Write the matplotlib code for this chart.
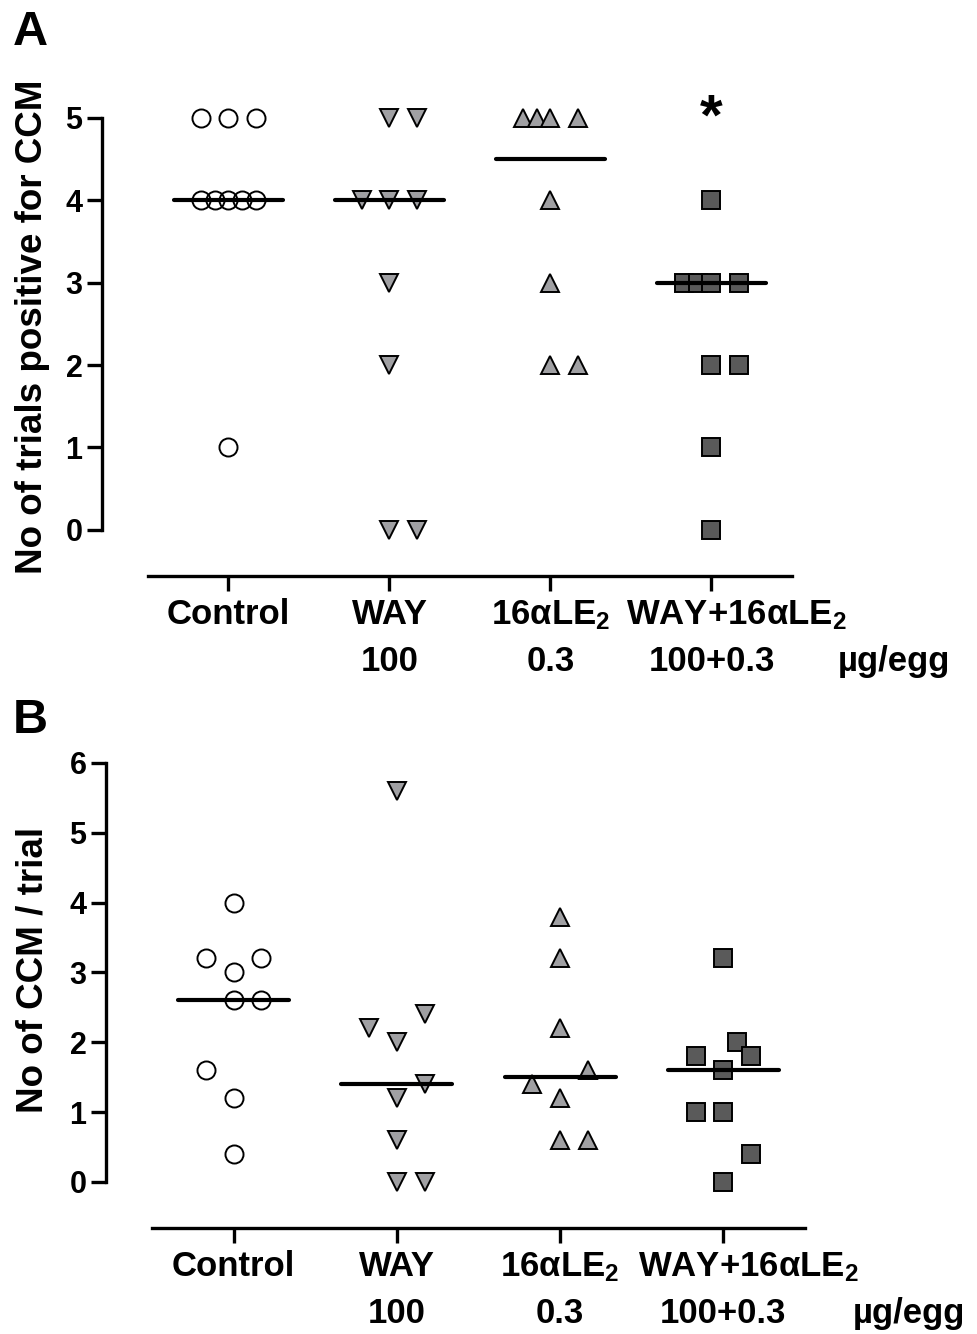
import numpy as np
import matplotlib
matplotlib.use("Agg")
import matplotlib.pyplot as plt

# treatment groups and doses (µg/egg)
groups = ["Control", "WAY", "16αLE$_2$", "WAY+16αLE$_2$"]
doses = ["", "100", "0.3", "100+0.3"]

# A: number of trials positive for CCM, one value per egg
trials_pos = [
    [5, 5, 5, 4, 4, 4, 4, 4, 1],
    [5, 5, 4, 4, 4, 3, 2, 0, 0],
    [5, 5, 5, 5, 4, 3, 2, 2],
    [4, 3, 3, 3, 3, 2, 2, 1, 0],
]
# side-by-side slot for each point so equal values don't hide each other
trials_slot = [
    [-2, 0, 2, -2, -1, 0, 1, 2, 0],
    [0, 2, -2, 0, 2, 0, 0, 0, 2],
    [-2, -1, 0, 2, 0, 0, 0, 2],
    [0, -2, -1, 0, 2, 0, 2, 0, 0],
]

# B: number of CCM per trial
ccm_per_trial = [
    [4.0, 3.2, 3.2, 3.0, 2.6, 2.6, 1.6, 1.2, 0.4],
    [5.6, 2.4, 2.2, 2.0, 1.4, 1.2, 0.6, 0.0, 0.0],
    [3.8, 3.2, 2.2, 1.6, 1.4, 1.2, 0.6, 0.6],
    [3.2, 2.0, 1.8, 1.8, 1.6, 1.0, 1.0, 0.4, 0.0],
]
ccm_slot = [
    [0, -2, 2, 0, 0, 2, -2, 0, 0],
    [0, 2, -2, 0, 2, 0, 0, 0, 2],
    [0, 0, 0, 2, -2, 0, 0, 2],
    [0, 1, -2, 2, 0, -2, 0, 2, 0],
]

FONT = "Liberation Sans"
plt.rcParams["font.family"] = [FONT, "DejaVu Sans"]
plt.rcParams["font.weight"] = "bold"
plt.rcParams["mathtext.fontset"] = "custom"
plt.rcParams["mathtext.rm"] = FONT + ":bold"
plt.rcParams["mathtext.it"] = FONT + ":bold"
plt.rcParams["mathtext.bf"] = FONT + ":bold"

STYLES = [("o", "none", 13), ("v", "#a0a0a3", 13.5), ("^", "#a0a0a3", 13.5), ("s", "#5a5a5a", 13.5)]
SLOT = 0.085
LABEL_SHIFT = [0, 0, 0, 18]  # points, keeps the last long label clear of its neighbour

W, H = 978, 1334
fig = plt.figure(figsize=(W / 100, H / 100), dpi=100)


def px_axes(left, right, top, bottom):
    return fig.add_axes([left / W, 1 - bottom / H, (right - left) / W, (bottom - top) / H])


def draw_panel(ax, values, slots, ymax, ylim):
    for i, (vals, sl) in enumerate(zip(values, slots)):
        marker, face, ms = STYLES[i]
        x = i + np.array(sl) * SLOT
        ax.plot(x, vals, linestyle="none", marker=marker, ms=ms, mfc=face,
                mec="black", mew=1.4, zorder=3, clip_on=False)
        med = np.median(vals)
        ax.plot([i - 0.34, i + 0.34], [med, med], color="black", lw=3,
                solid_capstyle="round", zorder=4)

    ax.set_xlim(-0.5, 3.5)
    ax.set_ylim(*ylim)
    for s in ["top", "right"]:
        ax.spines[s].set_visible(False)
    ax.spines["left"].set_position(("outward", 32.8))
    ax.spines["left"].set_bounds(0, ymax)
    for s in ["left", "bottom"]:
        ax.spines[s].set_linewidth(2.4)
    ax.set_yticks(range(ymax + 1))
    ax.set_xticks(range(4))
    ax.set_xticklabels([])
    ax.tick_params(axis="both", width=2.4, length=10.8, labelsize=22)
    ax.tick_params(axis="y", pad=3.6)

    for i in range(4):
        ax.annotate(groups[i], xy=(i, 0), xycoords=("data", "axes fraction"),
                    xytext=(LABEL_SHIFT[i], -34.6), textcoords="offset points",
                    ha="center", va="baseline", fontsize=25, annotation_clip=False)
        ax.annotate(doses[i], xy=(i, 0), xycoords=("data", "axes fraction"),
                    xytext=(0, -68.4), textcoords="offset points",
                    ha="center", va="baseline", fontsize=25, annotation_clip=False)
    ax.annotate("µg/egg", xy=(4.48, 0), xycoords=("data", "axes fraction"),
                xytext=(0, -68.4), textcoords="offset points",
                ha="right", va="baseline", fontsize=25, annotation_clip=False)


# Panel A
axA = px_axes(148, 792, 89, 576)
draw_panel(axA, trials_pos, trials_slot, 5, (-0.56, 5.35))
axA.text(3, 4.8, "*", ha="center", va="baseline", fontsize=42)
fig.text(33 / W, 1 - 327 / H, "No of trials positive for CCM", rotation=90,
         ha="center", va="center", fontsize=26.5, weight="bold")
fig.text(13 / W, 1 - 45 / H, "A", fontsize=35, weight="bold",
         ha="left", va="baseline")

# Panel B
axB = px_axes(152, 805, 756, 1228)
draw_panel(axB, ccm_per_trial, ccm_slot, 6, (-0.66, 6.1))
fig.text(33 / W, 1 - 970 / H, "No of CCM / trial", rotation=90,
         ha="center", va="center", fontsize=26.5, weight="bold")
fig.text(13 / W, 1 - 733 / H, "B", fontsize=35, weight="bold",
         ha="left", va="baseline")

fig.savefig("out.png", dpi=100)
